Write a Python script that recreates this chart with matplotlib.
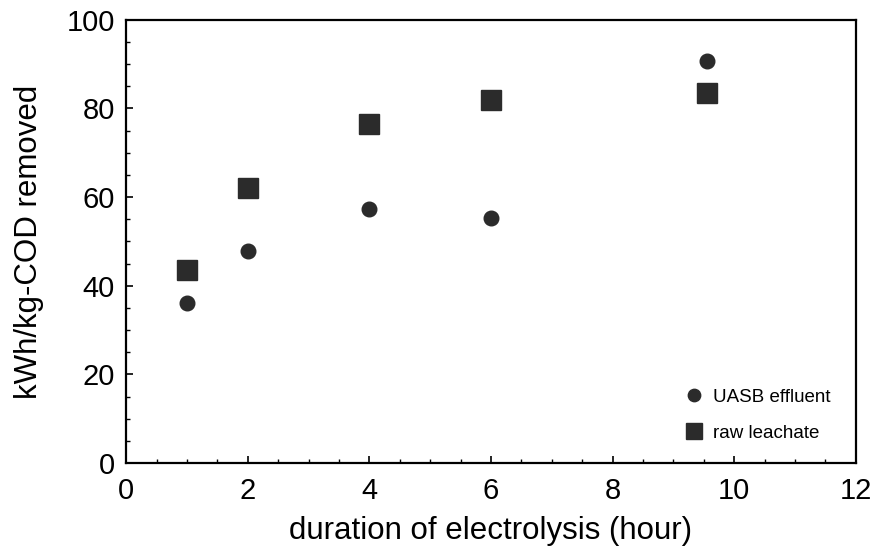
import matplotlib.pyplot as plt
from matplotlib.ticker import MultipleLocator

plt.rcParams["font.family"] = ["Liberation Sans", "DejaVu Sans"]

hours_uasb = [1, 2, 4, 6, 9.55]
energy_uasb = [36.1, 47.9, 57.3, 55.3, 90.7]

hours_raw = [1, 2, 4, 6, 9.55]
energy_raw = [43.6, 62.1, 76.5, 81.9, 83.5]

fig = plt.figure(figsize=(8.76, 5.5), dpi=100)
ax = fig.add_axes([0.144, 0.158, 0.833, 0.806])

ax.plot(hours_uasb, energy_uasb, "o", color="#2b2b2b", markersize=10.5,
        label="UASB effluent")
ax.plot(hours_raw, energy_raw, "s", color="#2b2b2b", markersize=14,
        label="raw leachate")

ax.set_xlim(0, 12)
ax.set_ylim(0, 100)
ax.xaxis.set_major_locator(MultipleLocator(2))
ax.xaxis.set_minor_locator(MultipleLocator(0.5))
ax.yaxis.set_major_locator(MultipleLocator(20))
ax.yaxis.set_minor_locator(MultipleLocator(5))
ax.tick_params(which="both", direction="in", top=False, right=False)
ax.tick_params(which="major", length=5, width=1.2, labelsize=21)
ax.tick_params(axis="x", which="major", pad=10)
ax.tick_params(axis="y", which="major", pad=8)
ax.tick_params(which="minor", length=3, width=1)
for s in ax.spines.values():
    s.set_linewidth(1.6)

ax.set_xlabel("duration of electrolysis (hour)", fontsize=22.5, labelpad=8)
ax.set_ylabel("kWh/kg-COD removed", fontsize=22.5, labelpad=16)

leg = ax.legend(loc="lower right", frameon=False, fontsize=13.5,
                handletextpad=0.5, labelspacing=1.0, handlelength=1.0,
                bbox_to_anchor=(0.988, 0.01), markerscale=0.85)

fig.savefig("out.png", dpi=100)
